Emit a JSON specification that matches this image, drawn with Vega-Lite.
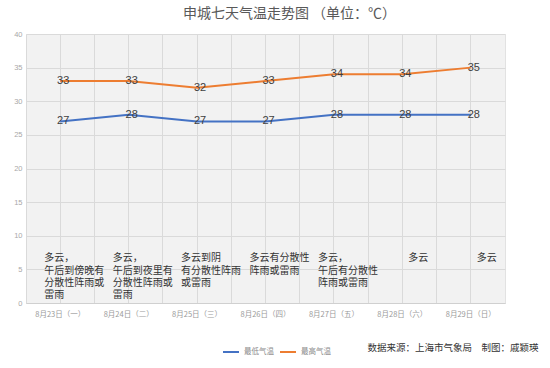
{
  "$schema": "https://vega.github.io/schema/vega-lite/v6.json",
  "width": 479,
  "height": 269,
  "autosize": {"type": "none"},
  "padding": {"left": 26, "top": 34, "right": 45, "bottom": 65},
  "background": "white",
  "title": {
    "text": "申城七天气温走势图  （单位：℃）",
    "font": "Noto Sans CJK SC",
    "fontSize": 14,
    "fontWeight": "normal",
    "color": "#595959",
    "anchor": "middle",
    "offset": 9,
    "dx": 24
  },
  "config": {
    "view": {"fill": "#f2f2f2", "stroke": "#e2e2e2"},
    "axis": {"gridColor": "#dadada", "gridWidth": 1},
    "axisY": {
      "tickCount": 8,
      "labelOverlap": false,
      "grid": true,
      "ticks": false,
      "domain": false,
      "labelFont": "Liberation Sans",
      "labelFontSize": 7.5,
      "labelColor": "#a8a8a8",
      "labelPadding": 4,
      "title": null
    }
  },
  "data": {
    "values": [
      {"date": "8月23日（一）", "最低气温": 27, "最高气温": 33, "weather": "多云，\n午后到傍晚有\n分散性阵雨或\n雷雨"},
      {"date": "8月24日（二）", "最低气温": 28, "最高气温": 33, "weather": "多云，\n午后到夜里有\n分散性阵雨或\n雷雨"},
      {"date": "8月25日（三）", "最低气温": 27, "最高气温": 32, "weather": "多云到阴\n有分散性阵雨\n或雷雨"},
      {"date": "8月26日（四）", "最低气温": 27, "最高气温": 33, "weather": "多云有分散性\n阵雨或雷雨"},
      {"date": "8月27日（五）", "最低气温": 28, "最高气温": 34, "weather": "多云，\n午后有分散性\n阵雨或雷雨"},
      {"date": "8月28日（六）", "最低气温": 28, "最高气温": 34, "weather": "多云"},
      {"date": "8月29日（日）", "最低气温": 28, "最高气温": 35, "weather": "多云"}
    ]
  },
  "encoding": {
    "x": {
      "field": "date",
      "type": "nominal",
      "sort": null,
      "scale": {"type": "band", "paddingInner": 0, "paddingOuter": 0},
      "axis": null
    }
  },
  "layer": [
    {
      "mark": {"type": "text", "opacity": 0},
      "encoding": {
        "x": {
          "field": "date",
          "type": "nominal",
          "sort": null,
          "axis": {
            "orient": "top",
            "bandPosition": 0,
            "grid": true,
            "labels": false,
            "ticks": false,
            "domain": false,
            "title": null
          }
        },
        "text": {"value": ""}
      }
    },
    {
      "transform": [{"fold": ["最低气温", "最高气温"], "as": ["series", "value"]}],
      "mark": {"type": "line", "strokeWidth": 2},
      "encoding": {
        "x": {
          "field": "date",
          "type": "nominal",
          "sort": null,
          "axis": {
            "orient": "bottom",
            "bandPosition": 0.5,
            "grid": true,
            "ticks": false,
            "domain": true,
            "domainColor": "#d0d0d0",
            "labelAngle": 0,
            "labelFont": "Noto Sans CJK SC",
            "labelFontSize": 7.5,
            "labelColor": "#9a9a9a",
            "labelPadding": 7,
            "title": "数据来源：上海市气象局　制图：戚颖瑛",
            "titleFont": "Noto Sans CJK SC",
            "titleFontSize": 9.5,
            "titleFontWeight": "normal",
            "titleColor": "#333333",
            "titleAnchor": null,
            "titleAlign": "right",
            "titleBaseline": "alphabetic",
            "titleX": 512,
            "titleY": 47
          }
        },
        "y": {
          "field": "value",
          "type": "quantitative",
          "scale": {"domain": [0, 40], "nice": false}
        },
        "color": {
          "field": "series",
          "type": "nominal",
          "scale": {"domain": ["最低气温", "最高气温"], "range": ["#4472C4", "#ED7D31"]},
          "legend": {
            "orient": "none",
            "legendX": 196,
            "legendY": 309,
            "direction": "horizontal",
            "title": null,
            "symbolType": "stroke",
            "symbolStrokeWidth": 2,
            "symbolSize": 256,
            "labelFont": "Noto Sans CJK SC",
            "labelFontSize": 7.5,
            "labelColor": "#8a8a8a",
            "columnPadding": 2,
            "symbolOffset": 0
          }
        }
      }
    },
    {
      "transform": [{"fold": ["最低气温", "最高气温"], "as": ["series", "value"]}],
      "mark": {"type": "text", "font": "Liberation Sans", "fontSize": 11, "color": "#404040", "dx": 3, "baseline": "middle"},
      "encoding": {
        "y": {"field": "value", "type": "quantitative"},
        "text": {"field": "value", "type": "quantitative"}
      }
    },
    {
      "transform": [{"filter": "indexof(datum.weather, '\\n') >= 0"}],
      "mark": {"type": "text", "font": "Noto Sans CJK SC", "fontSize": 10, "lineHeight": 12.3, "lineBreak": "\n", "align": "left", "baseline": "top", "dx": -16, "color": "#333333"},
      "encoding": {
        "y": {"datum": 7.4, "type": "quantitative"},
        "text": {"field": "weather"}
      }
    },
    {
      "transform": [{"filter": "indexof(datum.weather, '\\n') < 0"}],
      "mark": {"type": "text", "font": "Noto Sans CJK SC", "fontSize": 10, "align": "center", "baseline": "top", "dx": 16, "color": "#333333"},
      "encoding": {
        "y": {"datum": 7.4, "type": "quantitative"},
        "text": {"field": "weather"}
      }
    }
  ],
  "resolve": {"axis": {"x": "independent"}}
}
